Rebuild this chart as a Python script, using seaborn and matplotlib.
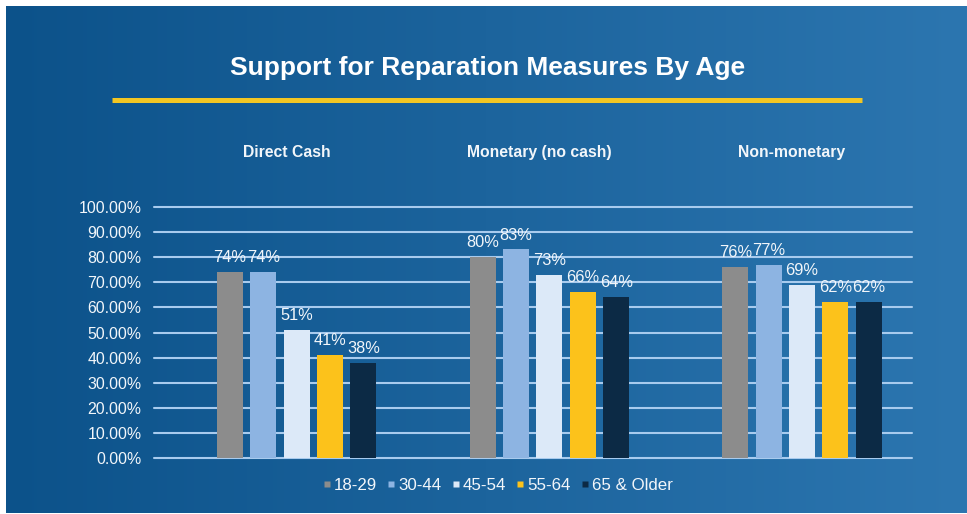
import numpy as np
import pandas as pd
import matplotlib
matplotlib.use("Agg")
import matplotlib.pyplot as plt
from matplotlib.lines import Line2D
from matplotlib.transforms import blended_transform_factory
import seaborn as sns

# ---- data -------------------------------------------------------------
measures = ["Direct Cash", "Monetary (no cash)", "Non-monetary"]
age_groups = ["18-29", "30-44", "45-54", "55-64", "65 & Older"]
support_18_29 = [74, 80, 76]
support_30_44 = [74, 83, 77]
support_45_54 = [51, 73, 69]
support_55_64 = [41, 66, 62]
support_65_up = [38, 64, 62]
y_ticks = [0, 10, 20, 30, 40, 50, 60, 70, 80, 90, 100]
title = "Support for Reparation Measures By Age"

series = [support_18_29, support_30_44, support_45_54, support_55_64, support_65_up]
df = pd.DataFrame(
    [(m, a, s[i]) for a, s in zip(age_groups, series) for i, m in enumerate(measures)],
    columns=["measure", "age", "support"],
)

palette = ["#8c8c8c", "#8db4e2", "#dce9f8", "#fcc21b", "#0c2a45"]
text_col = "#f2f6fa"
grid_col = "#a8cbee"

sns.set_theme(style="white")
plt.rcParams["font.family"] = ["Liberation Sans", "DejaVu Sans"]

W, H = 967, 514
fig = plt.figure(figsize=(W / 100, H / 100), dpi=100, facecolor="white")

# gradient backdrop
bg = fig.add_axes([6 / W, 1 / H, 1 - 6 / W, 1 - 7 / H], zorder=-10)
left = np.array([12, 82, 138]) / 255
right = np.array([44, 118, 176]) / 255
t = np.linspace(0, 1, 512)[None, :, None]
grad = left + (right - left) * t
bg.imshow(np.repeat(grad, 4, axis=0), aspect="auto", extent=[0, 1, 0, 1])
bg.set_axis_off()

# title and yellow rule
fig.text(488 / W, 1 - 68 / H, title, ha="center", va="center",
         fontsize=19, fontweight="bold", color="white")
fig.add_artist(Line2D([112 / W, 862 / W], [1 - 100 / H, 1 - 100 / H],
                      color="#f3c623", linewidth=3.6, solid_capstyle="butt"))

# main plot area
ax = fig.add_axes([154 / W, 1 - 458.3 / H, 758 / W, 251.6 / H])
ax.set_facecolor("none")
sns.barplot(data=df, x="measure", y="support", hue="age", hue_order=age_groups,
            palette=palette, width=0.66, gap=0.22, saturation=1,
            legend=False, ax=ax, zorder=3, edgecolor="none")

ax.set_xlim(-0.565, 2.435)
ax.set_ylim(0, 100)
ax.set_yticks(y_ticks)
ax.set_yticklabels([f"{v:.2f}%" for v in y_ticks], color=text_col, fontsize=11.4)
ax.tick_params(axis="y", length=0, pad=9)
ax.set_xticks([])
ax.set_xlabel("")
ax.set_ylabel("")
for s in ax.spines.values():
    s.set_visible(False)
for v in y_ticks:
    ax.axhline(v, color=grid_col, linewidth=1.5, zorder=1, clip_on=False)

for cont in ax.containers:
    ax.bar_label(cont, labels=[f"{v:.0f}%" for v in cont.datavalues],
                 padding=5, color=text_col, fontsize=11.8)

# measure headings
tr = blended_transform_factory(ax.transData, fig.transFigure)
for i, m in enumerate(measures):
    ax.text(i - 0.04, 1 - 152 / H, m, transform=tr, ha="center", va="center",
            fontsize=11.3, fontweight="bold", color=text_col)

# legend
handles = [Line2D([], [], marker="s", linestyle="none", markersize=5,
                  markerfacecolor=c, markeredgecolor="none") for c in palette]
fig.legend(handles, age_groups, loc="center", bbox_to_anchor=(498 / W, 1 - 485 / H),
           ncol=5, frameon=False, fontsize=12.2, labelcolor=text_col,
           handlelength=0.45, handletextpad=0.2, columnspacing=0.6)

fig.savefig("out.png", dpi=100, facecolor="white")
